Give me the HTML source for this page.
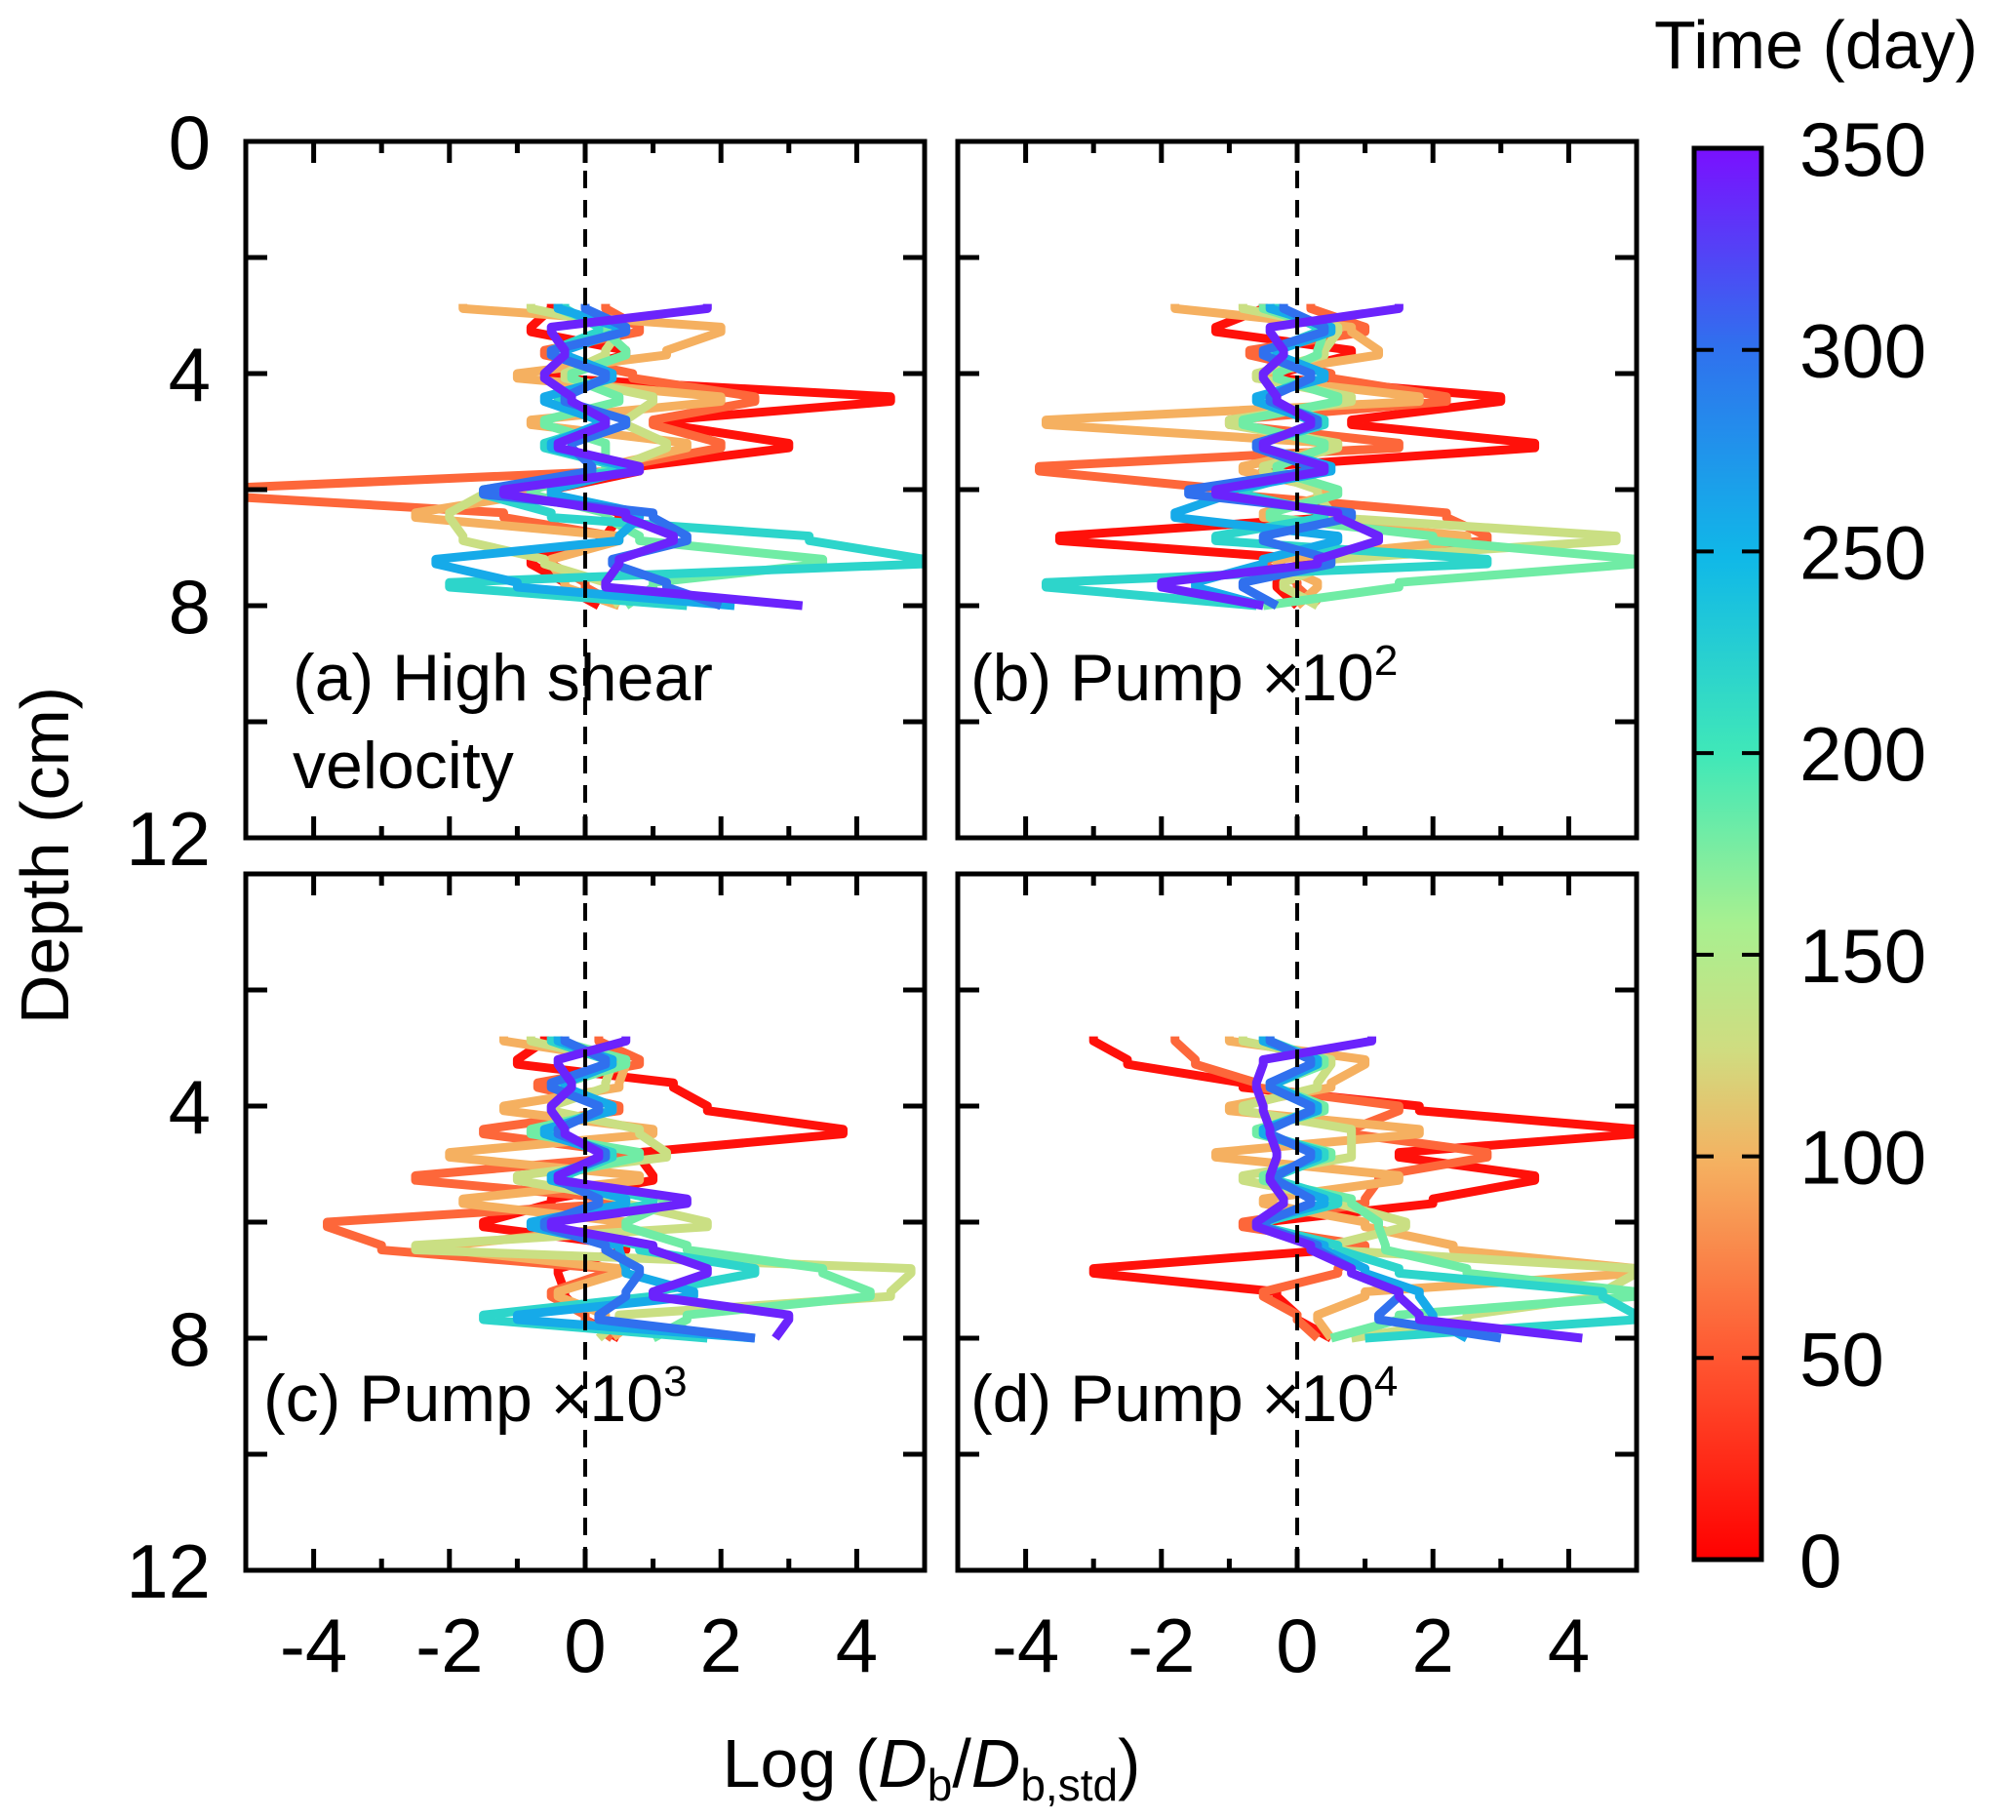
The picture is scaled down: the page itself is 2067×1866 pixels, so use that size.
<!DOCTYPE html>
<html><head><meta charset="utf-8"><style>
html,body{margin:0;padding:0;background:#fff}
svg{display:block}
text{font-family:"Liberation Sans",Arial,sans-serif;fill:#000}
</style></head><body>
<svg id="chart" width="2067" height="1866" viewBox="0 0 2067 1866" xmlns="http://www.w3.org/2000/svg">
<defs>
<linearGradient id="cb" x1="0" y1="1" x2="0" y2="0">
<stop offset="0" stop-color="#ff0000"/>
<stop offset="0.14" stop-color="#ff5530"/>
<stop offset="0.28" stop-color="#f5b060"/>
<stop offset="0.36" stop-color="#d0dc80"/>
<stop offset="0.45" stop-color="#a8f090"/>
<stop offset="0.57" stop-color="#40e8b8"/>
<stop offset="0.71" stop-color="#10b8e8"/>
<stop offset="0.86" stop-color="#3070ee"/>
<stop offset="1" stop-color="#7a10ff"/>
</linearGradient>
</defs>
<g id="plots"></g>
<text transform="translate(70,877) rotate(-90)" text-anchor="middle" font-size="70">Depth (cm)</text>
<text x="955" y="1832" text-anchor="middle" font-size="70">Log (<tspan font-style="italic">D</tspan><tspan font-size="46" dy="14">b</tspan><tspan dy="-14">/</tspan><tspan font-style="italic">D</tspan><tspan font-size="46" dy="14">b,std</tspan><tspan dy="-14">)</tspan></text>
<text x="1862" y="70" text-anchor="middle" font-size="70">Time (day)</text>
<rect x="1737" y="152" width="69" height="1447" fill="url(#cb)" stroke="#000" stroke-width="5"/>
<g id="cbticks"></g>
</svg>
<script>
const depths=[2.8,3.2,3.6,4.0,4.4,4.8,5.2,5.6,6.0,6.4,6.8,7.2,7.6,8.0];
const times=[10,60,100,130,180,220,260,300,340];
const seriesA=[
[-0.5,-0.8,0.6,-0.5,4.5,1.2,3.0,0.8,-0.5,0.5,0.3,-0.8,-0.3,0.2],
[0.3,0.8,-0.6,0.7,2.5,1.0,2.0,0.5,-5.8,-1.2,0.4,-0.5,0,0.5],
[-1.8,2.0,1.2,-1.0,2.0,-0.8,1.5,0.3,-0.8,-2.5,0.5,-0.5,-0.3,0.5],
[-0.8,0.5,0.3,-0.3,1.0,0.6,1.2,0.5,-1.5,-2.0,-1.8,-0.6,0.3,0.5],
[-0.4,0.3,0.6,-0.2,0.5,-0.6,0.3,0.3,-0.8,0.3,0.8,3.5,1.0,0.6],
[-0.3,0.2,-0.5,0.3,-0.4,0.3,-0.6,0.5,-1.5,-0.5,3.3,5.0,-2.0,1.5],
[-0.4,0.5,-0.3,0.4,-0.6,0.2,-0.5,0.6,-0.5,0.8,0.5,-2.2,-1.0,2.2],
[0,0.6,-0.5,0.3,-0.3,0.6,-0.2,0.1,-1.5,1.0,1.5,0.4,1.2,2.0],
[1.8,-0.5,-0.3,-0.6,-0.2,0.3,-0.4,0.8,-1.2,0.6,1.3,0.5,0.3,3.2]];
const seriesB=[
[-0.5,-1.2,0.8,-0.3,3.0,0.8,3.5,-0.5,-0.8,0.5,-3.5,0.2,-0.3,0],
[0.2,1.0,-0.7,0.5,2.2,-1.0,1.5,-3.8,-1.0,2.2,2.8,-0.5,0,0.3],
[-1.8,0.8,1.2,-0.6,1.8,-3.7,0.5,-0.8,0.5,-0.5,2.5,-0.3,0.3,0],
[-0.8,0.6,0.4,-0.6,0.8,-1.0,0.6,-0.5,0.3,0.5,4.7,0.5,-0.2,0.3],
[-0.5,0.4,0.3,-0.3,0.6,-0.8,0.4,-0.3,0.6,-0.4,2.0,5.0,1.5,-0.5],
[-0.3,0.3,-0.4,0.2,-0.5,0.4,-0.6,0.2,-0.8,0.4,-1.2,2.8,-3.7,-0.6],
[-0.4,0.5,-0.3,0.4,-0.6,0.2,-0.5,0.5,-1.0,-1.8,0.6,-0.5,-1.5,-0.5],
[-0.2,0.4,-0.5,0.2,-0.4,0.3,-0.6,0.2,-1.6,0.8,-0.5,0.5,-0.8,-0.3],
[1.5,-0.4,-0.2,-0.5,-0.3,0.2,-0.5,0.4,-1.2,0.6,1.2,0.3,-2.0,-0.5]];
const seriesC=[
[-0.6,-1.0,1.3,1.8,3.8,0.8,1.0,-0.5,-1.5,0.6,-0.4,-0.3,0,0.5],
[0.2,0.8,-0.7,0.5,-1.5,0.6,-2.5,0.5,-3.8,-3.0,0.3,-0.5,0,0.4],
[-1.2,0.6,0.5,-1.2,1.0,-2.0,0.8,-1.8,0.6,-2.0,0.5,-0.4,0.3,0.5],
[-0.8,0.4,0.3,-0.5,0.8,1.2,-1.0,0.6,1.8,-2.5,4.8,4.5,0.5,0.2],
[-0.4,0.6,-0.3,0.4,-0.8,0.8,-0.5,1.2,0.6,1.5,3.5,4.2,1.5,1.0],
[-0.5,0.3,-0.4,0.2,-0.5,0.4,-0.3,1.0,-0.5,0.8,2.5,1.0,-1.5,1.8],
[-0.4,0.4,-0.3,0.4,-0.6,0.3,-0.5,0.6,-0.8,0.5,0.6,1.6,-1.0,2.5],
[-0.3,0.3,-0.5,0.2,-0.4,0.3,-0.4,0.2,-0.6,0.3,0.8,0.6,0.2,2.5],
[0.6,-0.4,-0.2,-0.5,-0.3,0.2,-0.4,1.5,-0.5,1.0,1.8,1.0,3.0,2.8]];
const seriesD=[
[-3.0,-2.5,-0.8,1.8,5.0,1.5,3.5,2.0,-0.5,0.5,-3.0,-0.3,0,0.5],
[-1.8,-1.5,-0.6,1.5,0.8,2.8,1.2,1.0,-0.8,1.0,0.6,-0.5,0,0.3],
[-1.0,1.0,0.5,-1.0,1.8,-1.2,1.5,-0.5,1.0,2.3,5.0,1.0,0.3,0.5],
[-0.8,0.5,0.3,-0.8,0.8,0.8,-0.8,0.6,1.6,0.5,5.0,4.5,2.5,0.8],
[-0.5,0.4,-0.3,0.4,-0.6,0.5,-0.5,0.8,1.2,1.3,2.5,5.0,1.5,0.5],
[-0.4,0.3,-0.4,0.2,-0.5,0.4,-0.3,0.6,-0.5,0.6,1.5,4.5,5.0,1.0],
[-0.5,0.3,-0.3,0.3,-0.5,0.3,-0.4,0.4,-0.6,0.4,1.0,1.8,2.0,2.5],
[-0.4,0.2,-0.4,0.2,-0.4,0.2,-0.3,0.2,-0.5,0.3,0.8,1.5,1.2,3.0],
[1.1,-0.5,-0.6,-0.5,-0.4,-0.3,-0.4,-0.2,-0.6,0.2,0.8,1.5,1.8,4.2]];
const xTicks=[-4,-2,0,2,4];
const yTicks=[0,4,8,12];
const cbTicks=[0,50,100,150,200,250,300,350];

const NS="http://www.w3.org/2000/svg";
function mk(tag,attrs,parent){const e=document.createElementNS(NS,tag);for(const k in attrs)e.setAttribute(k,attrs[k]);parent.appendChild(e);return e;}
const stops=[[0,[255,0,0]],[50,[255,85,48]],[100,[245,176,96]],[125,[208,220,128]],[157,[168,240,144]],[200,[64,232,184]],[250,[16,184,232]],[300,[48,112,238]],[350,[122,16,255]]];
function color(t){for(let i=1;i<stops.length;i++){if(t<=stops[i][0]){const a=stops[i-1],b=stops[i],f=(t-a[0])/(b[0]-a[0]);const c=a[1].map((v,j)=>Math.round(v+(b[1][j]-v)*f));return `rgb(${c})`;}}return 'rgb(122,16,255)';}
const panels=[
{name:'a',x0:252,x1:948,y0:145,y1:859,data:seriesA,yl:true,xl:false},
{name:'b',x0:982,x1:1678,y0:145,y1:859,data:seriesB,yl:false,xl:false},
{name:'c',x0:252,x1:948,y0:896,y1:1610,data:seriesC,yl:true,xl:true},
{name:'d',x0:982,x1:1678,y0:896,y1:1610,data:seriesD,yl:false,xl:true}];
const root=document.getElementById('plots');
panels.forEach((p,pi)=>{
 const g=mk('g',{},root);
 
 
 const sx=v=>p.x0+(v+5)/10*(p.x1-p.x0);
 const sy=d=>p.y0+d/12*(p.y1-p.y0);
 const clip=mk('clipPath',{id:'cl'+pi},g);
 mk('rect',{x:p.x0,y:p.y0,width:p.x1-p.x0,height:p.y1-p.y0},clip);
 const lg=mk('g',{'clip-path':`url(#cl${pi})`},g);
 p.data.forEach((s,si)=>{
  const pts=[];
  s.forEach((v,i)=>{pts.push(sx(v)+','+sy(depths[i]));if(i<s.length-1){const dm=depths[i]+0.08;pts.push(sx(v)+','+sy(dm));}});
  const l=mk('polyline',{points:pts.join(' '),fill:'none',stroke:color(times[si]),'stroke-width':9,'stroke-linejoin':'round'},lg);
  
  
 });
 const z=mk('line',{x1:sx(0),x2:sx(0),y1:p.y0,y2:p.y1,stroke:'#000','stroke-width':4,'stroke-dasharray':'18 12'},g);
 
 
 for(let v=-4;v<=4;v++){const L=v%2===0?22:12;const x=sx(v);
  mk('line',{x1:x,x2:x,y1:p.y1,y2:p.y1-L,stroke:'#000','stroke-width':5},g);
  mk('line',{x1:x,x2:x,y1:p.y0,y2:p.y0+L,stroke:'#000','stroke-width':5},g);}
 for(let d=2;d<=10;d+=2){const y=sy(d);
  mk('line',{x1:p.x0,x2:p.x0+22,y1:y,y2:y,stroke:'#000','stroke-width':5},g);
  mk('line',{x1:p.x1,x2:p.x1-22,y1:y,y2:y,stroke:'#000','stroke-width':5},g);}
 const fr=mk('rect',{x:p.x0,y:p.y0,width:p.x1-p.x0,height:p.y1-p.y0,fill:'none',stroke:'#000','stroke-width':5},g);
 
 
 if(p.yl){yTicks.forEach(d=>{if(pi===2&&d===0)return;const t=mk('text',{x:p.x0-36,y:sy(d)+28,'text-anchor':'end','font-size':78},g);t.textContent=d;
  
  });}
 if(p.xl){xTicks.forEach(v=>{const t=mk('text',{x:sx(v),y:1714,'text-anchor':'middle','font-size':78},g);t.textContent=v;
  
  });}
});
const labs=[[300,718,'(a) High shear'],[300,808,'velocity'],[995,718,'(b) Pump \u00d710<tspan font-size="44" dy="-26">2</tspan>'],[270,1457,'(c) Pump \u00d710<tspan font-size="44" dy="-26">3</tspan>'],[995,1457,'(d) Pump \u00d710<tspan font-size="44" dy="-26">4</tspan>']];
labs.forEach(l=>{const t=mk('text',{x:l[0],y:l[1],'font-size':68},root);t.innerHTML=l[2];
 
 });
const cg=document.getElementById('cbticks');
cbTicks.forEach(v=>{const y=1599-v/350*1447;
 mk('line',{x1:1737,x2:1757,y1:y,y2:y,stroke:'#000','stroke-width':4},cg);
 mk('line',{x1:1806,x2:1786,y1:y,y2:y,stroke:'#000','stroke-width':4},cg);
 const t=mk('text',{x:1845,y:y+28,'font-size':78},cg);t.textContent=v;
 
 });
</script>
</body></html>
